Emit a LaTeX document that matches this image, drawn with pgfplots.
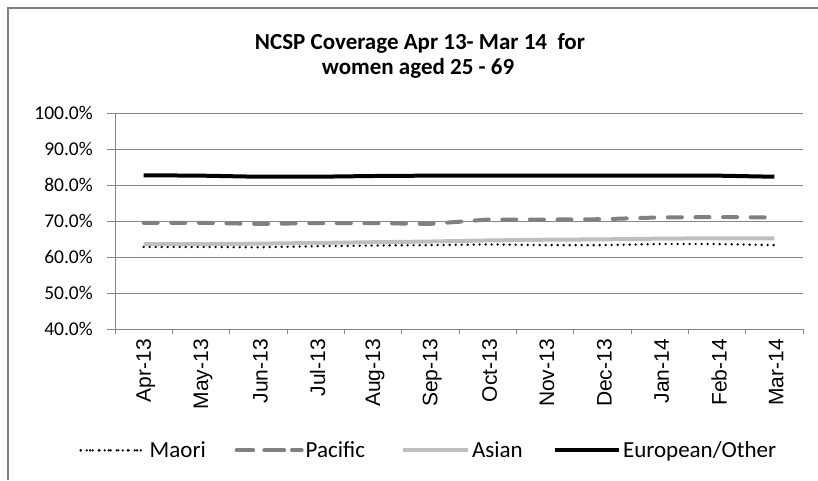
\documentclass[border=0pt]{standalone}
\usepackage{pgfplots}
\pgfplotsset{compat=1.18}
\usepackage{fontspec}
\setmainfont{Carlito}
\newfontfamily\arialf{Liberation Sans}
\definecolor{pacgray}{RGB}{128,128,128}
\definecolor{asgray}{RGB}{191,191,191}
\definecolor{gridgray}{RGB}{134,134,134}
\definecolor{framegray}{RGB}{128,128,128}
\tikzset{
 maoristyle/.style={black, line width=2.6pt, line cap=round, dash pattern=on 0pt off 6pt},
 pacstyle/.style={pacgray, line width=4pt, line cap=round, dash pattern=on 14pt off 13.6pt},
 asstyle/.style={asgray, line width=4pt},
 eurstyle/.style={black, line width=4pt},
}
\begin{document}
\begin{tikzpicture}
\path[use as bounding box] (0,0) rectangle (818pt,480pt);
\draw[framegray, line width=2pt] (8pt,0pt) -- (8pt,471.5pt) -- (818pt,471.5pt);
\node[font=\bfseries\fontsize{23}{25}\selectfont, anchor=base] at (420pt,430pt) {NCSP Coverage Apr 13- Mar 14\ \ for};
\node[font=\bfseries\fontsize{23}{25}\selectfont, anchor=base] at (418pt,405pt) {women aged 25 - 69};
\begin{axis}[
 scale only axis, width=688pt, height=216pt,
 at={(115pt,151pt)}, anchor=south west,
 xmin=-0.5, xmax=11.5, ymin=40, ymax=100,
 xtick={0,...,11},
 xticklabels={Apr-13,May-13,Jun-13,Jul-13,Aug-13,Sep-13,Oct-13,Nov-13,Dec-13,Jan-14,Feb-14,Mar-14},
 x tick label style={rotate=90, anchor=east, font=\arialf\fontsize{21}{21}\selectfont, inner sep=2pt, yshift=-2pt},
 major x tick style={draw=none},
 minor xtick={-0.5,0.5,...,11.5},
 minor x tick style={draw=gridgray, line width=0.8pt},
 minor tick length=5pt,
 ytick={40,50,...,100},
 yticklabel={\pgfmathprintnumber[fixed,fixed zerofill,precision=1]{\tick}\%},
 /pgf/number format/assume math mode=true,
 y tick label style={font=\fontsize{19.5}{19.5}\selectfont, inner sep=2pt, xshift=-12pt},
 major y tick style={draw=gridgray, line width=0.8pt},
 major tick length=8pt,
 tick align=outside,
 tick pos=left,
 ymajorgrids, grid style={draw=gridgray, line width=0.8pt},
 axis x line*=bottom, axis y line*=left,
 axis line style={draw=gridgray, line width=0.8pt},
 x axis line style={-}, y axis line style={-},
 legend columns=4,
 legend style={draw=none, at={(-0.0564,-0.562)}, anchor=west, font=\fontsize{23}{23}\selectfont,
   /tikz/column 2/.style={column sep=26.9pt},
   /tikz/column 4/.style={column sep=34.1pt},
   /tikz/column 6/.style={column sep=28.3pt}},
 legend cell align=left,
 clip=false,
]
\addplot[maoristyle, legend image code/.code={\draw[black, line width=2.6pt, line cap=round, dash pattern=on 0pt off 9.4pt] (0pt,0pt) -- (56.6pt,0pt); \path (0pt,0pt) -- (65.7pt,0pt);}] coordinates {
(0,62.8)(1,62.8)(2,62.7)(3,63.0)(4,63.2)(5,63.3)(6,63.5)(7,63.3)(8,63.3)(9,63.6)(10,63.6)(11,63.3)};
\addlegendentry{Maori}
\addplot[pacstyle, legend image code/.code={\draw[pacgray, line width=4pt, line cap=round, dash pattern=on 14.5pt off 16.5pt] (2pt,0pt) -- (48pt,0pt); \path (0pt,0pt) -- (65pt,0pt);}] coordinates {
(0,69.5)(1,69.5)(2,69.2)(3,69.4)(4,69.4)(5,69.2)(6,70.4)(7,70.4)(8,70.5)(9,71.0)(10,71.1)(11,71.0)};
\addlegendentry{Pacific}
\addplot[asstyle, legend image code/.code={\draw[asstyle] (0pt,0pt) -- (60pt,0pt); \path (0pt,0pt) -- (65pt,0pt);}] coordinates {
(0,63.6)(1,63.6)(2,63.7)(3,63.9)(4,64.1)(5,64.3)(6,64.6)(7,64.8)(8,64.9)(9,65.1)(10,65.2)(11,65.2)};
\addlegendentry{Asian}
\addplot[eurstyle, legend image code/.code={\draw[eurstyle] (0pt,0pt) -- (62pt,0pt); \path (0pt,0pt) -- (64pt,0pt);}] coordinates {
(0,82.7)(1,82.6)(2,82.3)(3,82.3)(4,82.5)(5,82.6)(6,82.6)(7,82.6)(8,82.6)(9,82.6)(10,82.6)(11,82.3)};
\addlegendentry{European/Other}
\end{axis}
\end{tikzpicture}
\end{document}
